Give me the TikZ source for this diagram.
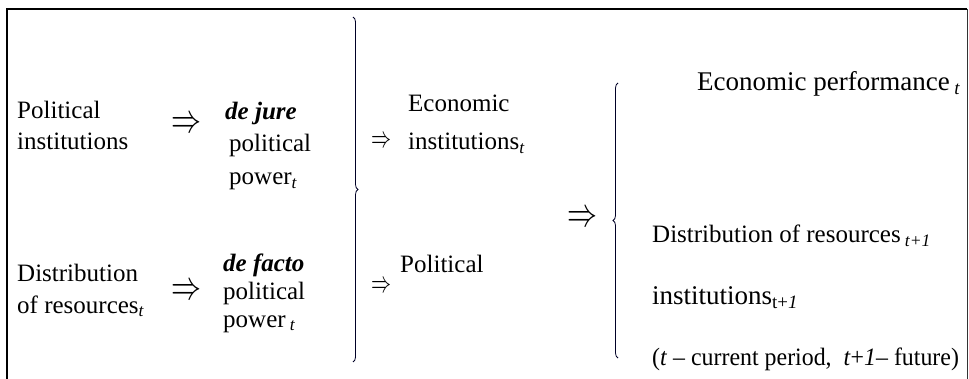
\documentclass[tikz,border=0pt]{standalone}
\usepackage{fontspec}
\usepackage{graphicx}
\setmainfont{Liberation Serif}
\usetikzlibrary{decorations.pathreplacing}
\newcommand{\bigimp}{\resizebox{30pt}{15pt}{$\Rightarrow$}}
\newcommand{\smallimp}{\resizebox{20pt}{11pt}{$\Rightarrow$}}
\begin{document}
\begin{tikzpicture}[x=1pt,y=-1pt,
  txt/.style={inner sep=0pt,anchor=base west,font=\fontsize{25}{31}\selectfont},
  bigtxt/.style={inner sep=0pt,anchor=base west,font=\fontsize{27}{33}\selectfont},
  arrownode/.style={inner sep=0pt,anchor=center},
  bracestyle/.style={line width=0.8pt,draw=black!85!blue,decorate,decoration={brace,amplitude=5pt}},
  frame/.style={line width=1.3pt,draw=black}]
\useasboundingbox (0,0) rectangle (969,379);
% frame
\coordinate (fbl) at (7,379);
\coordinate (ftl) at (7,9);
\coordinate (ftr) at (967,9);
\coordinate (fbr) at (967,379);
\draw[frame] (fbl) -- (ftl) -- (ftr);
\draw[line width=0.8pt,draw=black!80] (ftr) -- (fbr);
% left column
\node[txt] (pi1) at (17,119) {Political};
\node[txt] (pi2) at (17,150) {institutions};
\node[txt] (dr1) at (17,282) {Distribution};
\node[txt] (dr2) at (17,313) {of resources\textsubscript{\textit{t}}};
\node[arrownode] (a1) at (186,125) {\bigimp};
\node[arrownode] (a2) at (186,292) {\bigimp};
% power column
\node[txt] (dj1) at (225,120) {\textbf{\textit{de jure}}};
\node[txt] (dj2) at (229,152) {political};
\node[txt] (dj3) at (229,185) {power\textsubscript{\textit{t}}};
\node[txt] (df1) at (223,272) {\textbf{\textit{de facto}}};
\node[txt] (df2) at (223,300) {political};
\node[txt] (df3) at (223,327) {power\,\textsubscript{\textit{t}}};
% right brace
\coordinate (rb1) at (353,17);
\coordinate (rb2) at (353,362);
\draw[bracestyle] (rb1) -- (rb2);
% institutions column
\node[arrownode] (a3) at (381,142) {\smallimp};
\node[arrownode] (a4) at (381,287) {\smallimp};
\node[txt] (ei1) at (408,112) {Economic};
\node[txt] (ei2) at (408,150) {institutions\textsubscript{\textit{t}}};
\node[txt] (pol) at (400,273) {Political};
% big arrow and left brace
\node[arrownode] (a5) at (582,219) {\bigimp};
\coordinate (lb1) at (618,358);
\coordinate (lb2) at (618,83);
\draw[bracestyle] (lb1) -- (lb2);
% outcomes
\node[bigtxt] (ep) at (697,91) {Economic performance\,\textsubscript{\textit{t}}};
\node[txt] (dr3) at (652,243) {Distribution of resources\,\textsubscript{\textit{t+1}}};
\node[bigtxt] (in3) at (652,305) {institutions\textsubscript{t+\textit{1}}};
\node[txt] (note) at (652,365) {\scalebox{0.955}[1]{(\textit{t} – current period,\ \ \textit{t}+\textit{1}– future)}};
\end{tikzpicture}
\end{document}
